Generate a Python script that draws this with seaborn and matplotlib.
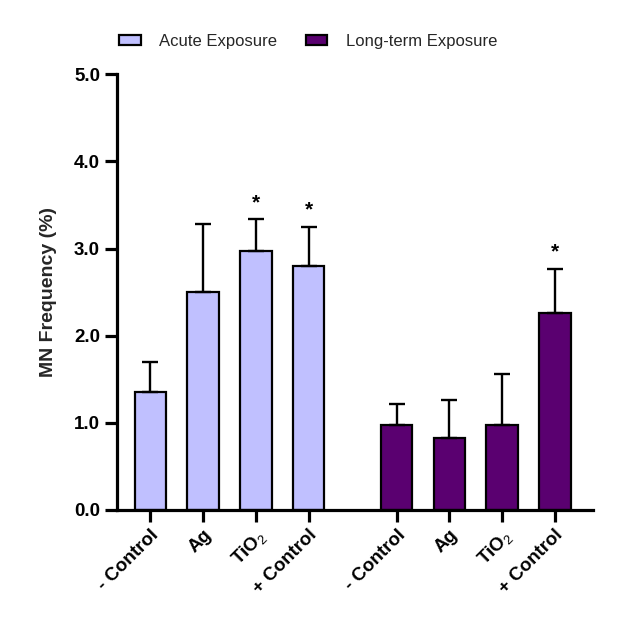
import matplotlib
matplotlib.use('Agg')
import matplotlib.pyplot as plt
import seaborn as sns
import pandas as pd
from matplotlib.patches import Patch

# ---- data ----
treatments = ['- Control', 'Ag', 'TiO$_2$', '+ Control']
groups = ['Acute Exposure', 'Long-term Exposure']
acute_mean = [1.35, 2.50, 2.97, 2.80]
acute_err = [0.35, 0.78, 0.37, 0.45]
long_mean = [0.98, 0.82, 0.97, 2.26]
long_err = [0.23, 0.44, 0.59, 0.51]
acute_sig = [False, False, True, True]
long_sig = [False, False, False, True]
positions = [0, 1, 2, 3, 4.67, 5.67, 6.67, 7.67]
colors = ['#C0C0FF', '#5A0070']

df = pd.DataFrame({
    'pos': positions,
    'label': treatments + treatments,
    'group': [groups[0]] * 4 + [groups[1]] * 4,
    'mean': acute_mean + long_mean,
    'err': acute_err + long_err,
    'sig': acute_sig + long_sig,
})

sns.set_theme(style='ticks')
plt.rcParams['font.family'] = ['Liberation Sans', 'DejaVu Sans']
plt.rcParams['mathtext.fontset'] = 'custom'
plt.rcParams['mathtext.rm'] = 'Liberation Sans'
plt.rcParams['mathtext.it'] = 'Liberation Sans'
plt.rcParams['mathtext.bf'] = 'Liberation Sans:bold'

fig = plt.figure(figsize=(6.38, 6.35), dpi=100)
ax = fig.add_axes([0.183, 0.197, 0.746, 0.686])

sns.barplot(data=df, x='pos', y='mean', hue='group', palette=colors,
            native_scale=True, dodge=False, width=0.6, errorbar=None,
            saturation=1, edgecolor='black', linewidth=1.6, legend=False,
            ax=ax, hue_order=groups)

ax.errorbar(df['pos'], df['mean'], yerr=[[0] * len(df), df['err']],
            fmt='none', ecolor='black', elinewidth=1.7, capsize=6,
            capthick=1.7, zorder=1)

for _, r in df.iterrows():
    if r['sig']:
        ax.annotate('*', (r['pos'], r['mean'] + r['err']), xytext=(0, 5),
                    textcoords='offset points', ha='center', va='bottom',
                    fontsize=15, fontweight='bold', color='black')

ax.set_ylim(0, 5)
ax.set_xlim(-0.64, 8.39)
ax.set_yticks([0, 1, 2, 3, 4, 5])
ax.set_yticklabels([f'{v:.1f}' for v in [0, 1, 2, 3, 4, 5]],
                   fontsize=13.5, fontweight='bold')
ax.set_xticks(positions)
ax.set_xticklabels(df['label'], rotation=45, ha='right',
                   rotation_mode='anchor', fontsize=13.5, fontweight='bold')
ax.set_xlabel('')
ax.set_ylabel('MN Frequency (%)', fontsize=14, fontweight='bold', labelpad=12)

for s in ['top', 'right']:
    ax.spines[s].set_visible(False)
for s in ['left', 'bottom']:
    ax.spines[s].set_linewidth(2.3)
    ax.spines[s].set_color('black')
ax.tick_params(axis='both', which='major', length=8.5, width=2.3,
               color='black', labelcolor='black', pad=3.5)

handles = [Patch(facecolor=c, edgecolor='black', linewidth=1.6, label=g)
           for c, g in zip(colors, groups)]
fig.legend(handles=handles, loc='center', bbox_to_anchor=(0.483, 0.935),
           ncol=2, frameon=False, fontsize=12, handlelength=1.3,
           handleheight=0.6, handletextpad=1.1, columnspacing=1.7)

fig.savefig('out.png', dpi=100)
